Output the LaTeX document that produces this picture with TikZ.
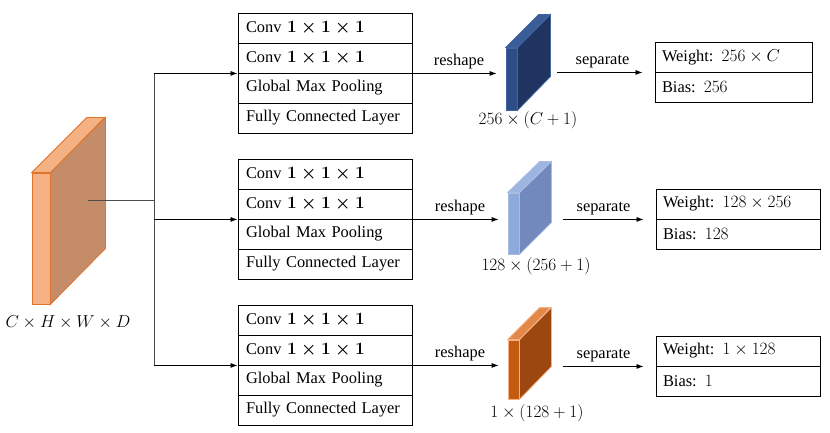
\documentclass[tikz,border=0pt]{standalone}
\usepackage{fontspec}
\setmainfont{Liberation Serif}
\usepackage{amsmath}
\usetikzlibrary{arrows.meta}
\definecolor{inborder}{HTML}{E0742D}
\definecolor{infront}{HTML}{F4B183}
\definecolor{inside}{HTML}{C48C68}
\definecolor{dkfront}{HTML}{2E4D86}
\definecolor{dkside}{HTML}{1F3461}
\definecolor{dktop}{HTML}{3A5C99}
\definecolor{dkborder}{HTML}{41649E}
\definecolor{ltfront}{HTML}{8EA9DB}
\definecolor{ltside}{HTML}{7189BD}
\definecolor{lttop}{HTML}{9DB5E0}
\definecolor{ltborder}{HTML}{A9BDE3}
\definecolor{orfront}{HTML}{C55A11}
\definecolor{orside}{HTML}{9C4610}
\definecolor{ortop}{HTML}{E2894A}
\definecolor{orborder}{HTML}{F4B183}

\begin{document}
\begin{tikzpicture}[x=1pt, y=-1pt,
  font=\fontsize{16.4}{19}\selectfont,
  row/.style={draw=black, line width=0.9pt, minimum height=30pt,
              text width=158pt, inner xsep=8pt, inner ysep=0pt, align=left},
  outrow/.style={draw=black, line width=0.9pt, minimum height=30pt,
              text width=150pt, inner xsep=7pt, inner ysep=0pt, align=left},
  slab/.style={line width=0.8pt, minimum width=11pt, inner sep=0pt},
  arr/.style={-{Latex[length=7pt,width=5pt]}, line width=0.8pt},
  trunk/.style={line width=0.8pt, color=black!70}
]
\useasboundingbox (0,0) rectangle (830,433);

% input volume
\node[slab, draw=inborder, fill=infront, minimum width=18pt,
      minimum height=131pt] (nin) at (41,238.5) {};
\filldraw[draw=inborder, fill=inside, line width=0.8pt]
  (nin.north east) -- ++(55,-55) -- ++(0,131) -- (nin.south east) -- cycle;
\filldraw[draw=inborder, fill=infront, line width=0.8pt]
  (nin.north west) -- ++(55,-55) -- ++(18,0) -- (nin.north east) -- cycle;
\node (nindim) at (68,322) {$C\times H\times W\times D$};

% three heads
\node[row] (nca1) at (325,28)  {Conv {\boldmath$1\times1\times1$}};
\node[row] (ncb1) at (325,58)  {Conv {\boldmath$1\times1\times1$}};
\node[row] (ngp1) at (325,88)  {Global Max Pooling};
\node[row] (nfc1) at (325,118) {Fully Connected Layer};

\node[row] (nca2) at (325,174) {Conv {\boldmath$1\times1\times1$}};
\node[row] (ncb2) at (325,204) {Conv {\boldmath$1\times1\times1$}};
\node[row] (ngp2) at (325,234) {Global Max Pooling};
\node[row] (nfc2) at (325,264) {Fully Connected Layer};

\node[row] (nca3) at (325,320) {Conv {\boldmath$1\times1\times1$}};
\node[row] (ncb3) at (325,350) {Conv {\boldmath$1\times1\times1$}};
\node[row] (ngp3) at (325,380) {Global Max Pooling};
\node[row] (nfc3) at (325,410) {Fully Connected Layer};

% reshaped tensors
\node[slab, draw=dkborder, fill=dkfront, minimum height=62pt] (nsl1) at (511.5,79) {};
\filldraw[draw=dkborder, fill=dkside, line width=0.8pt]
  (nsl1.north east) -- ++(33,-33) -- ++(0,62) -- (nsl1.south east) -- cycle;
\filldraw[draw=dkborder, fill=dktop, line width=0.8pt]
  (nsl1.north west) -- ++(33,-33) -- ++(11,0) -- (nsl1.north east) -- cycle;
\node (nd1) at (528,120) {$256\times(C+1)$};

\node[slab, draw=ltborder, fill=ltfront, minimum height=61pt] (nsl2) at (513.5,223.5) {};
\filldraw[draw=ltborder, fill=ltside, line width=0.8pt]
  (nsl2.north east) -- ++(32,-31) -- ++(0,61) -- (nsl2.south east) -- cycle;
\filldraw[draw=ltborder, fill=lttop, line width=0.8pt]
  (nsl2.north west) -- ++(32,-31) -- ++(11,0) -- (nsl2.north east) -- cycle;
\node (nd2) at (536,266) {$128\times(256+1)$};

\node[slab, draw=orborder, fill=orfront, minimum height=59pt] (nsl3) at (513.5,369.5) {};
\filldraw[draw=orborder, fill=orside, line width=0.8pt]
  (nsl3.north east) -- ++(32,-32) -- ++(0,59) -- (nsl3.south east) -- cycle;
\filldraw[draw=orborder, fill=ortop, line width=0.8pt]
  (nsl3.north west) -- ++(32,-32) -- ++(11,0) -- (nsl3.north east) -- cycle;
\node (nd3) at (537,413) {$1\times(128+1)$};

% outputs
\node[outrow, text width=143pt] (nw1) at (733.5,57) {Weight: $256\times C$};
\node[outrow, text width=143pt] (nb1) at (733.5,87) {Bias: $256$};
\node[outrow] (nw2) at (738,204) {Weight: $128\times256$};
\node[outrow] (nb2) at (738,234) {Bias: $128$};
\node[outrow] (nw3) at (738,351) {Weight: $1\times128$};
\node[outrow] (nb3) at (738,381) {Bias: $1$};

% connectors
\coordinate (nsrc) at (88,200);
\coordinate (nsplit) at (154,200);
\draw[trunk] (nsrc) -- (nsplit);
\draw[trunk] (nsplit |- ncb1.south west) -- (nsplit |- ncb3.south west);
\draw[arr] (nsplit |- ncb1.south west) -- (ncb1.south west);
\draw[arr] (nsplit |- ncb2.south west) -- (ncb2.south west);
\draw[arr] (nsplit |- ncb3.south west) -- (ncb3.south west);

\draw[arr, shorten >=9pt] (ncb1.south east) --
  node[above=1pt] {reshape} (ncb1.south east -| nsl1.west);
\draw[arr, shorten >=9pt] (ncb2.south east) --
  node[above=1pt] {reshape} (ncb2.south east -| nsl2.west);
\draw[arr, shorten >=9pt] (ncb3.south east) --
  node[above=1pt] {reshape} (ncb3.south east -| nsl3.west);

\coordinate (nsr1) at ([xshift=33pt]nsl1.east);
\coordinate (nsr2) at ([xshift=32pt]nsl2.east);
\coordinate (nsr3) at ([xshift=32pt]nsl3.east);
\draw[arr, shorten <=7pt, shorten >=12pt] (nsr1 |- nw1.south west) --
  node[above=1pt] {separate} (nw1.south west);
\draw[arr, shorten <=12pt, shorten >=12pt] (nsr2 |- nw2.south west) --
  node[above=1pt] {separate} (nw2.south west);
\draw[arr, shorten <=12pt, shorten >=12pt] (nsr3 |- nw3.south west) --
  node[above=1pt] {separate} (nw3.south west);
\end{tikzpicture}
\end{document}
